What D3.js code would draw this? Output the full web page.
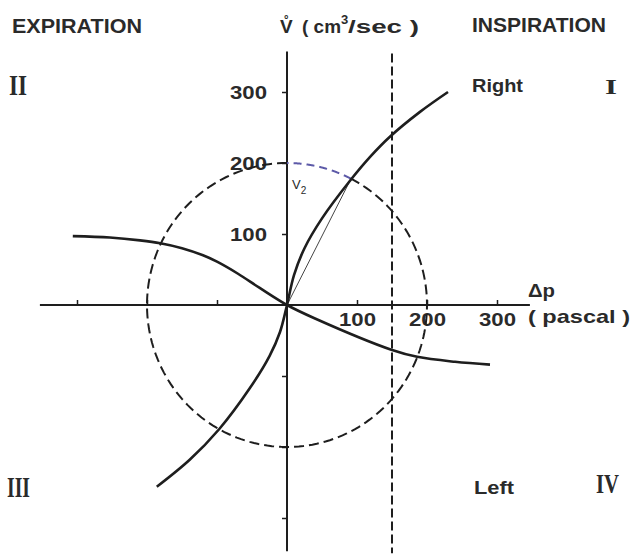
<!DOCTYPE html>
<html>
<head>
<meta charset="utf-8">
<script src="https://cdn.jsdelivr.net/npm/d3@7"></script>
<style>
  html, body { margin: 0; padding: 0; background: #fff; }
  svg { display: block; }
</style>
</head>
<body>
<svg id="chart" width="631" height="554"></svg>
<script>
// ---- data ----
const xDomain = [-300, 300];
const yDomain = [-300, 300];
const xAxisExtent = [-353, 347];
const yAxisExtent = [-347, 357];
const xTicks = [-300, -200, -100, 100, 200, 300];
const yTicks = [-300, -200, -100, 100, 200, 300];
const labelledTicks = [100, 200, 300];
// "Right" curve (delta p in pascal, flow in cm3/sec)
const rightP = [-186, -139, -97, -53, -25, -10, 0, 10, 25, 50, 90, 120, 147, 190, 230];
const rightV = [-256, -218, -175, -117, -72, -38, 0, 42, 80, 122, 175, 210, 237, 272, 300];
// "Left" curve
const leftP = [-306, -253, -210, -181, -150, -120, -100, -70, -39, 0, 40, 149, 186, 240, 290];
const leftV = [97, 95, 91, 87, 80, 70, 61, 44, 24, 0, -19, -63, -73, -80, -84];
// dashed circle radius, intersection point V2, dashed pressure line
const circleRadius = [200];
const v2Point = [90, 175];
const pressureLine = [150];

const FONT = "'Liberation Sans', Arial, sans-serif";
const SERIF = "'Liberation Serif', 'Times New Roman', serif";
const svg = d3.select("#chart");
const x = d3.scaleLinear().domain(xDomain).range([77, 497]);
const y = d3.scaleLinear().domain(yDomain).range([518, 92]);
const ink = "#1e1e1e";
const txtInk = "#2a2a2a";

// axes lines
svg.append("line").attr("x1", x(xAxisExtent[0])).attr("x2", x(xAxisExtent[1]))
  .attr("y1", y(0)).attr("y2", y(0)).attr("stroke", ink).attr("stroke-width", 2);
svg.append("line").attr("x1", x(0)).attr("x2", x(0))
  .attr("y1", y(yAxisExtent[0])).attr("y2", y(yAxisExtent[1])).attr("stroke", ink).attr("stroke-width", 2);

const fmt = d => labelledTicks.includes(d) ? String(d) : "";
const yAx = svg.append("g").attr("transform", `translate(${x(0)},0)`)
  .call(d3.axisLeft(y).tickValues(yTicks).tickSize(5).tickPadding(15).tickFormat(fmt));
const xAx = svg.append("g").attr("transform", `translate(0,${y(0)})`)
  .call(d3.axisBottom(x).tickValues(xTicks).tickSize(-5).tickPadding(8).tickFormat(fmt));
[yAx, xAx].forEach(g => {
  g.select(".domain").remove();
  g.selectAll(".tick line").attr("stroke", ink).attr("stroke-width", 1.5);
  g.selectAll("text").attr("font-size", 19).attr("font-family", FONT)
    .attr("font-weight", "bold").attr("fill", txtInk);
});
yAx.selectAll("text").attr("textLength", 37).attr("lengthAdjust", "spacingAndGlyphs").attr("dy", "0.36em");
xAx.selectAll("text").attr("textLength", 37).attr("lengthAdjust", "spacingAndGlyphs");

// dashed circle (split into black part and blue part)
const r = circleRadius[0];
const a0 = Math.atan2(v2Point[1], v2Point[0]);
function arcPts(t1, t2) {
  const n = 180, pts = [];
  for (let i = 0; i <= n; i++) {
    const t = t1 + (t2 - t1) * i / n;
    pts.push([x(r * Math.cos(t)), y(r * Math.sin(t))]);
  }
  return pts;
}
const lineGen = d3.line();
svg.append("path").attr("d", lineGen(arcPts(Math.PI / 2, a0 + 2 * Math.PI)))
  .attr("fill", "none").attr("stroke", ink).attr("stroke-width", 2).attr("stroke-dasharray", "10,5");
svg.append("path").attr("d", lineGen(arcPts(a0, Math.PI / 2)))
  .attr("fill", "none").attr("stroke", "#5d5aa8").attr("stroke-width", 2).attr("stroke-dasharray", "8,5");

// vertical dashed line at delta p = 150
svg.append("line").attr("x1", x(pressureLine[0])).attr("x2", x(pressureLine[0]))
  .attr("y1", y(yAxisExtent[1]) + 2).attr("y2", y(yAxisExtent[0]) + 2)
  .attr("stroke", ink).attr("stroke-width", 2).attr("stroke-dasharray", "9,4");

// thin chord from origin to V2 point
svg.append("line").attr("x1", x(0)).attr("y1", y(0)).attr("x2", x(v2Point[0])).attr("y2", y(v2Point[1]))
  .attr("stroke", "#444").attr("stroke-width", 1);

// curves
const curve = d3.line().x(d => x(d[0])).y(d => y(d[1])).curve(d3.curveCatmullRom.alpha(0.5));
svg.append("path").attr("d", curve(rightP.map((p, i) => [p, rightV[i]])))
  .attr("fill", "none").attr("stroke", ink).attr("stroke-width", 2.6);
svg.append("path").attr("d", curve(leftP.map((p, i) => [p, leftV[i]])))
  .attr("fill", "none").attr("stroke", ink).attr("stroke-width", 2.6);

// texts
function label(txt, xx, yy, size, len, opts = {}) {
  const t = svg.append("text").attr("x", xx).attr("y", yy)
    .style("font-size", size + "px")
    .style("font-family", opts.family || FONT)
    .style("font-weight", opts.weight || "bold")
    .style("fill", txtInk)
    .text(txt);
  if (len) t.attr("textLength", len).attr("lengthAdjust", "spacingAndGlyphs");
  return t;
}
label("EXPIRATION", 12, 33, 20, 130);
label("INSPIRATION", 472, 32, 20, 134);
const title = svg.append("text").attr("y", 33)
  .style("font-size", "19px").style("font-family", FONT).style("font-weight", "bold").style("fill", txtInk);
title.append("tspan").attr("x", 280).text("V\u030A");
title.append("tspan").attr("x", 302).attr("textLength", 39).attr("lengthAdjust", "spacingAndGlyphs").text("( cm");
title.append("tspan").attr("x", 341).attr("y", 24).style("font-size", "13px").text("3");
title.append("tspan").attr("x", 348).attr("y", 33).attr("textLength", 71).attr("lengthAdjust", "spacingAndGlyphs").text("/sec )");
label("Right", 472, 92, 19, 51);
label("Left", 474, 494, 19, 40);
label("\u0394p", 528, 297, 19, 27);
label("( pascal )", 528, 323, 19, 102);
const v2 = svg.append("text").attr("x", 292).attr("y", 189)
  .style("font-size", "13px").style("font-family", FONT).style("font-weight", "normal").style("fill", txtInk);
v2.append("tspan").text("V");
v2.append("tspan").style("font-size", "10px").attr("dy", 5).text("2");

label("II", 9, 95, 29, 18, { family: SERIF });
label("I", 605, 94, 21, 12, { family: SERIF });
label("III", 7, 497, 30, 23, { family: SERIF });
label("IV", 596, 493, 27, 23, { family: SERIF });
</script>
</body>
</html>
